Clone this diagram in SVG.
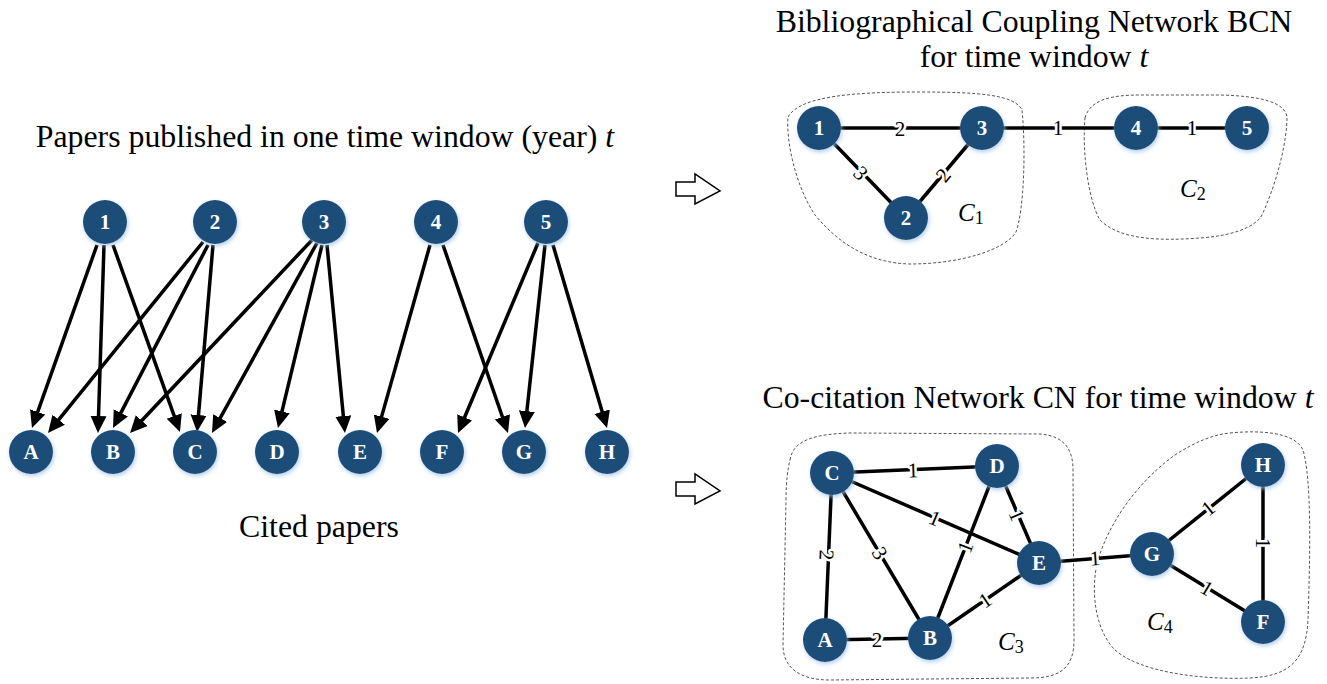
<svg xmlns="http://www.w3.org/2000/svg" width="1327" height="684" viewBox="0 0 1327 684">
<defs>
<marker id="ah" markerUnits="userSpaceOnUse" markerWidth="20" markerHeight="18" refX="7" refY="8" orient="auto">
<path d="M0,0 L17,8 L0,16 Z" fill="#000"/>
</marker>
<filter id="glow" x="-30%" y="-30%" width="160%" height="160%">
<feDropShadow dx="1" dy="2" stdDeviation="2" flood-color="#9dc3e6" flood-opacity="0.8"/>
</filter>
<style>
.title{font-family:"Liberation Serif","Times New Roman",serif;font-size:31.8px;fill:#000;text-anchor:middle}
.nd circle{fill:#1f4e79;filter:url(#glow)}
.nd text{font-family:"Liberation Serif","Times New Roman",serif;font-size:21px;font-weight:bold;fill:#fff;text-anchor:middle}
.arr{stroke:#000;stroke-width:3.5;fill:none;marker-end:url(#ah)}
.edge{stroke:#000;stroke-width:3.5;fill:none}
.el{font-family:"Liberation Serif","Times New Roman",serif;font-size:21px;fill:#000;text-anchor:middle;stroke:#fff;stroke-width:5;paint-order:stroke;stroke-linejoin:round}
.blob{fill:none;stroke:#555;stroke-width:1;stroke-dasharray:3,2}
.cl{font-family:"Liberation Serif","Times New Roman",serif;font-size:25px;font-style:italic;fill:#000}
.sub{font-style:normal;font-size:18px}
.hollow{fill:#fff;stroke:#000;stroke-width:1.5;stroke-linejoin:miter}
</style>
</defs>
<rect width="1327" height="684" fill="#fff"/>

<g id="titles">
<text class="title" x="325" y="147">Papers published in one time window (year) <tspan font-style="italic">t</tspan></text>
<text class="title" x="319" y="537">Cited papers</text>
<text class="title" x="1034" y="32">Bibliographical Coupling Network BCN</text>
<text class="title" x="1034" y="67">for time window <tspan font-style="italic">t</tspan></text>
<text class="title" x="1038" y="408">Co-citation Network CN for time window <tspan font-style="italic">t</tspan></text>
</g>

<g id="clusters">
<path class="blob" d="M788,117 C800,95 860,92 920,92 C980,92 1015,95 1022,110 C1026,150 1024,210 1016,232 C1005,250 960,264 910,264 C870,263 840,245 815,215 C795,185 786,140 788,117 Z"/>
<path class="blob" d="M1085,118 C1090,100 1110,95 1140,95 L1220,95 C1260,96 1285,102 1287,117 C1287,140 1278,180 1262,215 C1255,228 1230,236 1200,238 C1160,241 1120,240 1100,220 C1088,200 1082,150 1085,118 Z"/>
<path class="blob" d="M790,460 C793,440 815,434 850,433 L1040,434 C1065,436 1073,450 1073,470 L1074,640 C1074,668 1060,678 1030,678 L830,680 C800,680 783,668 783,645 L786,500 C786,480 788,468 790,460 Z"/>
<path class="blob" d="M1230,433 C1260,430 1295,432 1303,450 C1312,480 1310,560 1308,620 C1306,660 1290,676 1250,678 C1200,680 1140,672 1115,650 C1095,630 1090,590 1098,560 C1110,520 1140,480 1175,455 C1195,442 1212,435 1230,433 Z"/>
<text class="cl" x="958" y="221">C<tspan class="sub" dy="3">1</tspan></text>
<text class="cl" x="1180" y="197">C<tspan class="sub" dy="3">2</tspan></text>
<text class="cl" x="998" y="650">C<tspan class="sub" dy="3">3</tspan></text>
<text class="cl" x="1147" y="630">C<tspan class="sub" dy="3">4</tspan></text>
</g>

<g id="transform-arrows">
<polygon class="hollow" points="676,182 695,182 695,174 720,191 695,204 695,196 676,196"/>
<polygon class="hollow" points="676,482 695,482 695,474 720,491 695,504 695,496 676,496"/>
</g>

<g id="connectors">
<line class="arr" x1="97" y1="245" x2="35.3" y2="418.6"/>
<line class="arr" x1="104" y1="245" x2="98.3" y2="423"/>
<line class="arr" x1="113" y1="245" x2="176.6" y2="422.6"/>
<line class="arr" x1="203" y1="242" x2="54.3" y2="425.2"/>
<line class="arr" x1="208" y1="245" x2="117.6" y2="419.1"/>
<line class="arr" x1="213" y1="245" x2="197.9" y2="422"/>
<line class="arr" x1="312" y1="240" x2="136.9" y2="425.7"/>
<line class="arr" x1="317" y1="243" x2="216.8" y2="424.2"/>
<line class="arr" x1="322" y1="245" x2="280.3" y2="418.3"/>
<line class="arr" x1="327" y1="245" x2="344" y2="423"/>
<line class="arr" x1="430" y1="245" x2="379.7" y2="423.4"/>
<line class="arr" x1="443" y1="245" x2="504.7" y2="423.5"/>
<line class="arr" x1="538" y1="243" x2="461.9" y2="423.8"/>
<line class="arr" x1="545" y1="245" x2="526.1" y2="418.1"/>
<line class="arr" x1="553" y1="245" x2="604.2" y2="418.4"/>

<line class="edge" x1="819" y1="128" x2="982" y2="128"/>
<line class="edge" x1="819" y1="128" x2="906" y2="218"/>
<line class="edge" x1="906" y1="218" x2="982" y2="128"/>
<line class="edge" x1="982" y1="128" x2="1136" y2="128"/>
<line class="edge" x1="1136" y1="128" x2="1247" y2="128"/>

<line class="edge" x1="832" y1="473" x2="997" y2="466"/>
<line class="edge" x1="832" y1="473" x2="1039" y2="563"/>
<line class="edge" x1="832" y1="473" x2="825" y2="640"/>
<line class="edge" x1="832" y1="473" x2="930" y2="638"/>
<line class="edge" x1="997" y1="466" x2="930" y2="638"/>
<line class="edge" x1="997" y1="466" x2="1039" y2="563"/>
<line class="edge" x1="930" y1="638" x2="1039" y2="563"/>
<line class="edge" x1="825" y1="640" x2="930" y2="638"/>
<line class="edge" x1="1039" y1="563" x2="1152" y2="554"/>
<line class="edge" x1="1152" y1="554" x2="1263" y2="465"/>
<line class="edge" x1="1263" y1="465" x2="1263" y2="622"/>
<line class="edge" x1="1152" y1="554" x2="1263" y2="622"/>

<text class="el" x="900" y="129" dy="0.35em">2</text>
<text class="el" transform="translate(861,173) rotate(46)" dy="0.35em">3</text>
<text class="el" transform="translate(943,175) rotate(-50)" dy="0.35em">2</text>
<text class="el" x="1058" y="128" dy="0.35em">1</text>
<text class="el" x="1192" y="128" dy="0.35em">1</text>

<text class="el" transform="translate(913,470) rotate(-2)" dy="0.35em">1</text>
<text class="el" transform="translate(935,518) rotate(23)" dy="0.35em">1</text>
<text class="el" transform="translate(827,555) rotate(92)" dy="0.35em">2</text>
<text class="el" transform="translate(880,553) rotate(59)" dy="0.35em">3</text>
<text class="el" transform="translate(965,547) rotate(-69)" dy="0.35em">1</text>
<text class="el" transform="translate(1017,515) rotate(67)" dy="0.35em">1</text>
<text class="el" transform="translate(985,600) rotate(-34)" dy="0.35em">1</text>
<text class="el" x="877" y="640" dy="0.35em">2</text>
<text class="el" transform="translate(1095,558) rotate(-4)" dy="0.35em">1</text>
<text class="el" transform="translate(1208,508) rotate(-39)" dy="0.35em">1</text>
<text class="el" transform="translate(1263,543) rotate(90)" dy="0.35em">1</text>
<text class="el" transform="translate(1207,588) rotate(31)" dy="0.35em">1</text>
</g>

<g id="p1" class="nd"><circle cx="105" cy="222" r="22"/><text x="105" y="229">1</text></g>
<g id="p2" class="nd"><circle cx="215" cy="222" r="22"/><text x="215" y="229">2</text></g>
<g id="p3" class="nd"><circle cx="324" cy="222" r="22"/><text x="324" y="229">3</text></g>
<g id="p4" class="nd"><circle cx="436" cy="222" r="22"/><text x="436" y="229">4</text></g>
<g id="p5" class="nd"><circle cx="546" cy="222" r="22"/><text x="546" y="229">5</text></g>

<g id="cA" class="nd"><circle cx="31" cy="452" r="22"/><text x="31" y="459">A</text></g>
<g id="cB" class="nd"><circle cx="113" cy="452" r="22"/><text x="113" y="459">B</text></g>
<g id="cC" class="nd"><circle cx="195" cy="452" r="22"/><text x="195" y="459">C</text></g>
<g id="cD" class="nd"><circle cx="277" cy="452" r="22"/><text x="277" y="459">D</text></g>
<g id="cE" class="nd"><circle cx="360" cy="452" r="22"/><text x="360" y="459">E</text></g>
<g id="cF" class="nd"><circle cx="442" cy="452" r="22"/><text x="442" y="459">F</text></g>
<g id="cG" class="nd"><circle cx="524" cy="452" r="22"/><text x="524" y="459">G</text></g>
<g id="cH" class="nd"><circle cx="607" cy="452" r="22"/><text x="607" y="459">H</text></g>

<g id="bcn1" class="nd"><circle cx="819" cy="128" r="22"/><text x="819" y="135">1</text></g>
<g id="bcn2" class="nd"><circle cx="906" cy="218" r="22"/><text x="906" y="225">2</text></g>
<g id="bcn3" class="nd"><circle cx="982" cy="128" r="22"/><text x="982" y="135">3</text></g>
<g id="bcn4" class="nd"><circle cx="1136" cy="128" r="22"/><text x="1136" y="135">4</text></g>
<g id="bcn5" class="nd"><circle cx="1247" cy="128" r="22"/><text x="1247" y="135">5</text></g>

<g id="cnC" class="nd"><circle cx="832" cy="473" r="22"/><text x="832" y="480">C</text></g>
<g id="cnD" class="nd"><circle cx="997" cy="466" r="22"/><text x="997" y="473">D</text></g>
<g id="cnE" class="nd"><circle cx="1039" cy="563" r="22"/><text x="1039" y="570">E</text></g>
<g id="cnA" class="nd"><circle cx="825" cy="640" r="22"/><text x="825" y="647">A</text></g>
<g id="cnB" class="nd"><circle cx="930" cy="638" r="22"/><text x="930" y="645">B</text></g>
<g id="cnH" class="nd"><circle cx="1263" cy="465" r="22"/><text x="1263" y="472">H</text></g>
<g id="cnG" class="nd"><circle cx="1152" cy="554" r="22"/><text x="1152" y="561">G</text></g>
<g id="cnF" class="nd"><circle cx="1263" cy="622" r="22"/><text x="1263" y="629">F</text></g>
</svg>
